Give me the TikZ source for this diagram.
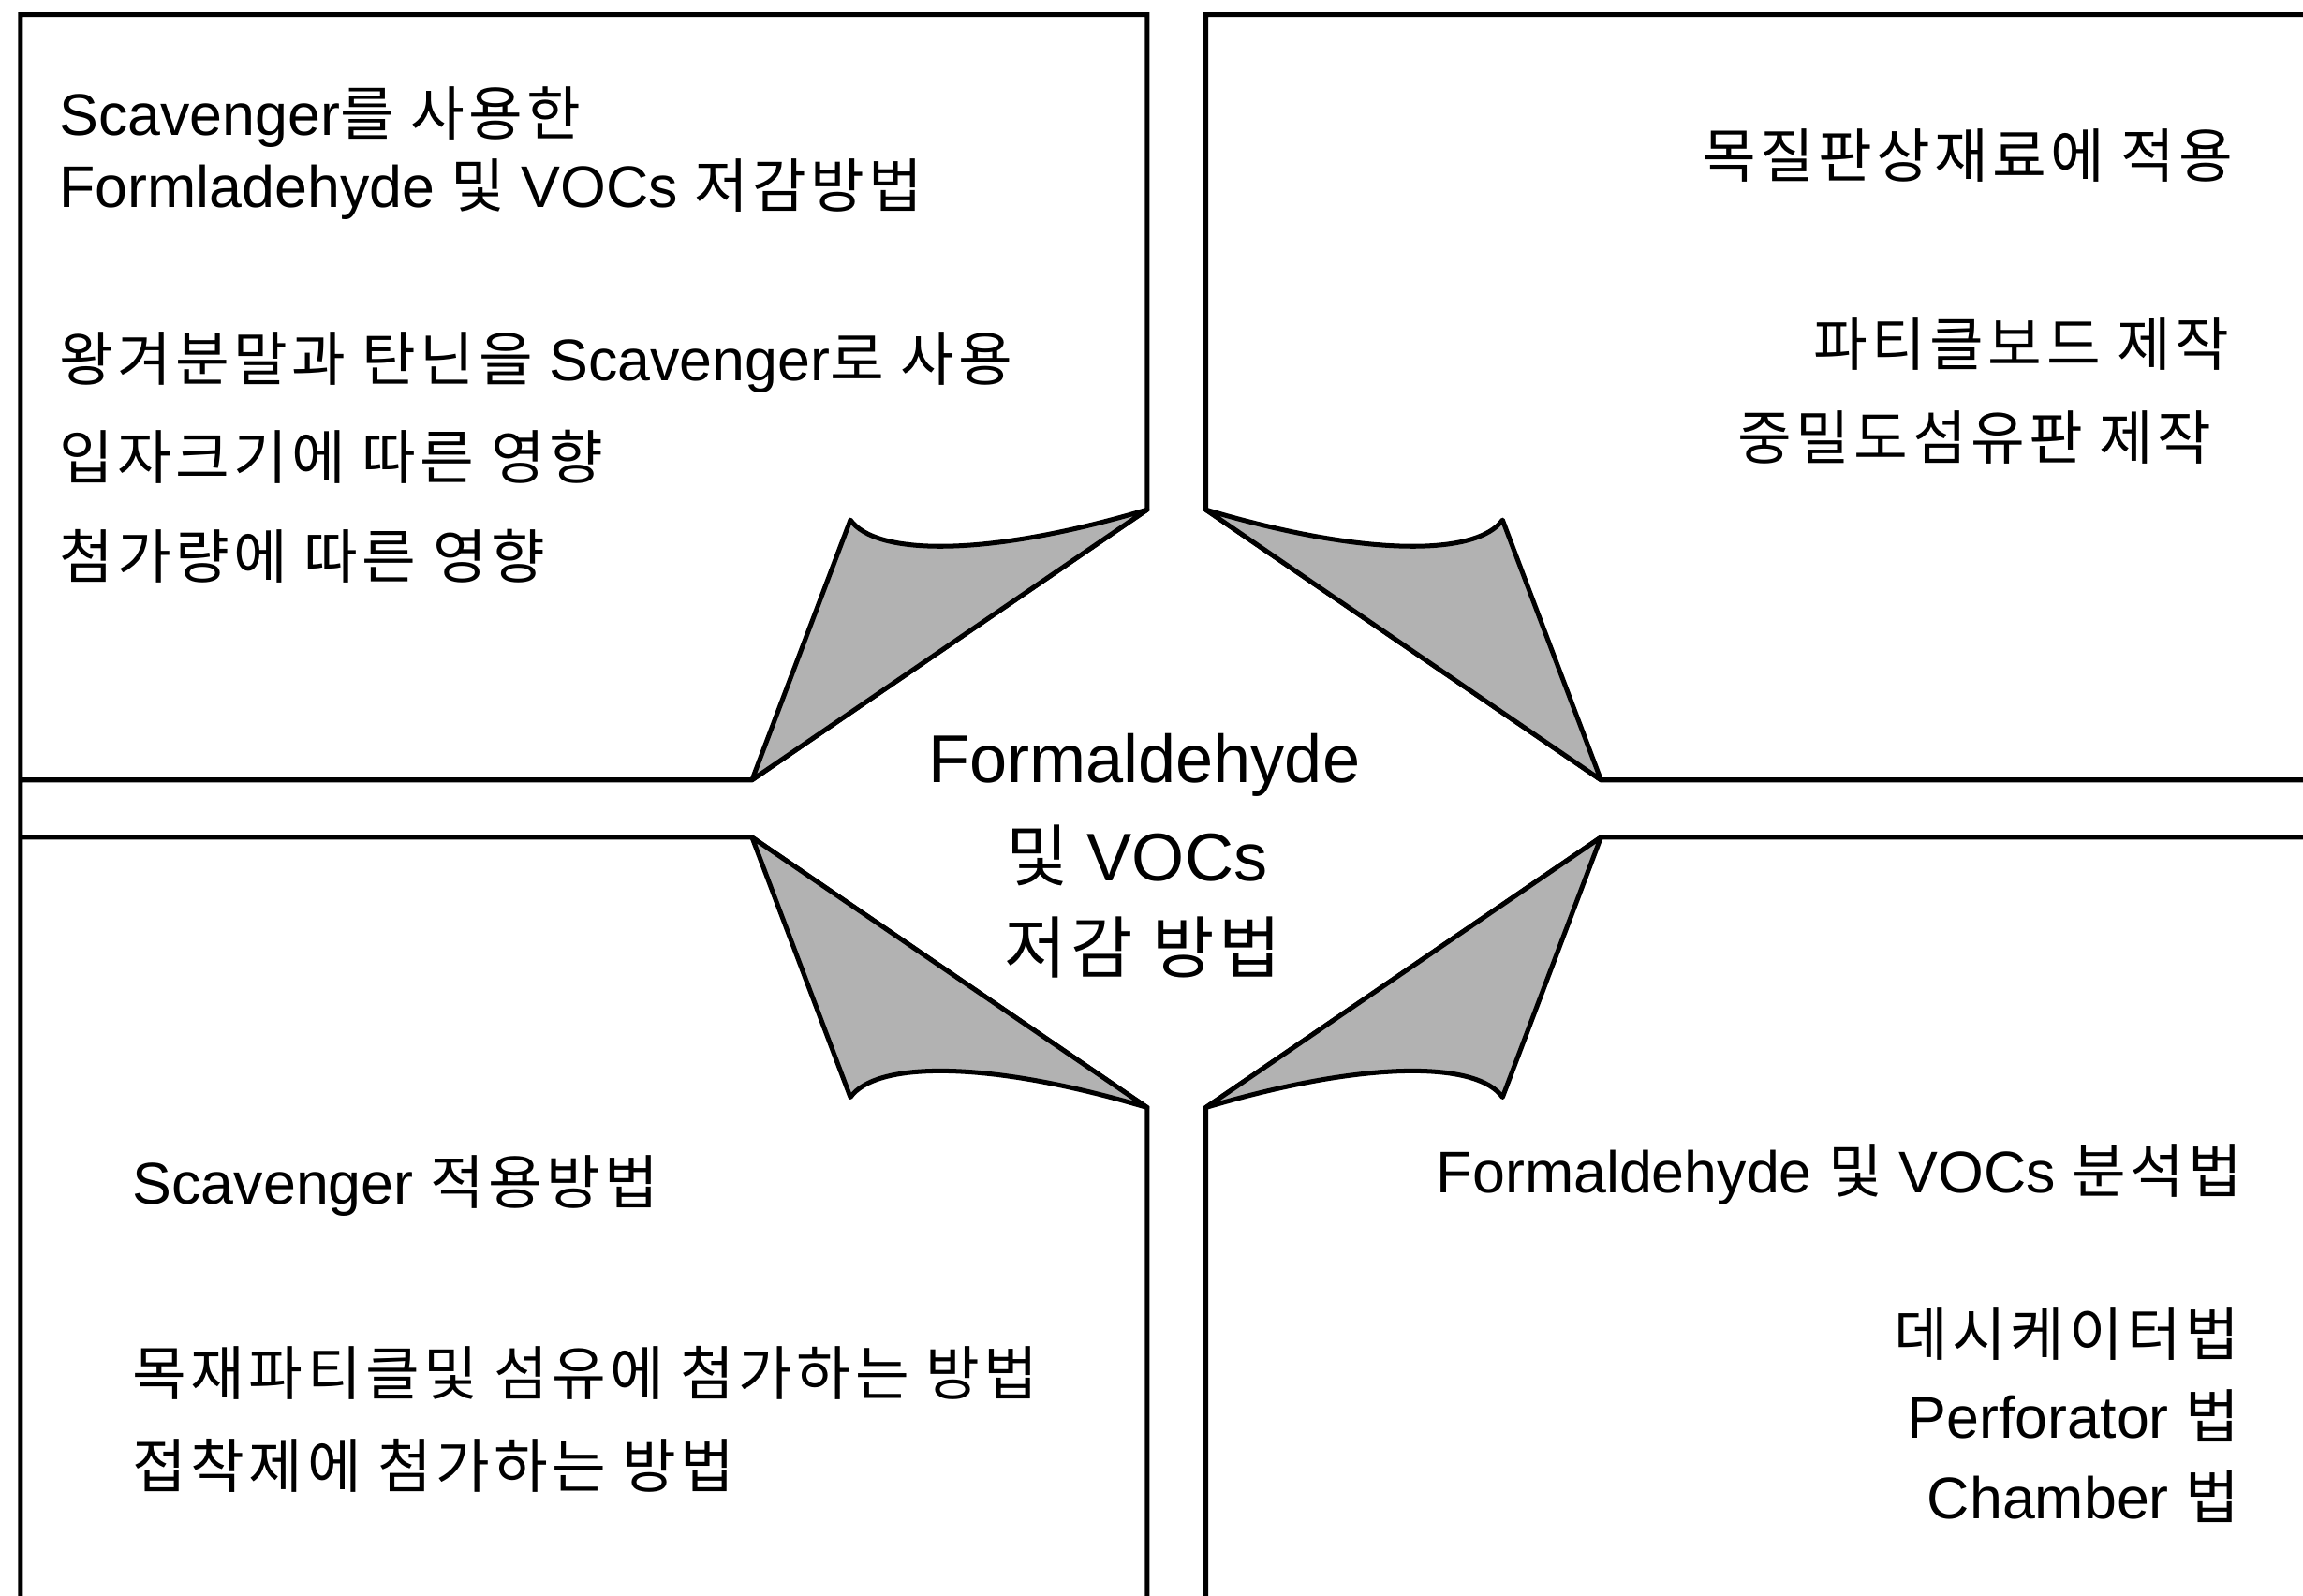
\documentclass[tikz,border=0pt]{standalone}
\usepackage{fontspec}
\setmainfont{Liberation Sans}
\newfontfamily\kr[LetterSpace=7]{Noto Sans CJK KR}
\newcommand{\K}[1]{{\kr #1}}
\begin{document}
\begin{tikzpicture}[x=0.5pt,y=-0.5pt,
  panel/.style={line width=1.6pt, line join=miter},
  flap/.style={line width=1.6pt, fill=black!30, line join=round},
  lbl/.style={inner sep=0pt, font=\fontsize{20}{24}\selectfont},
  ctr/.style={inner sep=0pt, anchor=base, font=\fontsize{23}{28}\selectfont}]
\useasboundingbox (0,0) rectangle (1568,1086);
\clip (0,0) rectangle (1568,1086);
% fold points
\coordinate (tlA) at (512,531); \coordinate (tlB) at (781,347); \coordinate (tlT) at (579,354);
\coordinate (trA) at (1090,531); \coordinate (trB) at (821,347); \coordinate (trT) at (1023,354);
\coordinate (blA) at (512,570); \coordinate (blB) at (781,754); \coordinate (blT) at (579,747);
\coordinate (brA) at (1090,570); \coordinate (brB) at (821,754); \coordinate (brT) at (1023,747);
% panels
\draw[panel] (14,1095) -- (14,10) -- (781,10) -- (tlB) -- (tlA) -- (14,531);
\draw[panel] (1575,10) -- (821,10) -- (trB) -- (trA) -- (1575,531);
\draw[panel] (14,570) -- (blA) -- (blB) -- (781,1095);
\draw[panel] (1575,570) -- (brA) -- (brB) -- (821,1095);
% flaps
\draw[flap] (tlA) -- (tlT) .. controls (596,378) and (670,380) .. (tlB) -- cycle;
\draw[flap] (trA) -- (trT) .. controls (1006,378) and (932,380) .. (trB) -- cycle;
\draw[flap] (blA) -- (blT) .. controls (596,723) and (670,721) .. (blB) -- cycle;
\draw[flap] (brA) -- (brT) .. controls (1006,723) and (932,721) .. (brB) -- cycle;
% centre
\node[ctr] (c1) at (779,533) {Formaldehyde};
\node[ctr] (c2) at (774,600) {\K{및} VOCs};
\node[ctr] (c3) at (778,662) {\K{저감} \K{방법}};
% top left
\node[lbl, anchor=base west] (tl1) at (40,92) {Scavenger\K{를} \K{사용한}};
\node[lbl, anchor=base west] (tl2) at (40,141) {Formladehyde \K{및} VOCs \K{저감방법}};
\node[lbl, anchor=base west] (tl3) at (40,259) {\K{왕겨분말과} \K{탄닌을} Scavenger\K{로} \K{사용}};
\node[lbl, anchor=base west] (tl4) at (40,326) {\K{입자크기에} \K{따른} \K{영향}};
\node[lbl, anchor=base west] (tl5) at (40,394) {\K{첨가량에} \K{따른} \K{영향}};
% top right
\node[lbl, anchor=base east] (tr1) at (1521,121) {\K{목질판상재료에} \K{적용}};
\node[lbl, anchor=base east] (tr2) at (1518,249) {\K{파티클보드} \K{제작}};
\node[lbl, anchor=base east] (tr3) at (1506,313) {\K{중밀도섬유판} \K{제작}};
% bottom left
\node[lbl, anchor=base west] (bl1) at (90,820) {Scavenger \K{적용방법}};
\node[lbl, anchor=base west] (bl2) at (90,950) {\K{목재파티클및} \K{섬유에} \K{첨가하는} \K{방법}};
\node[lbl, anchor=base west] (bl3) at (90,1013) {\K{접착제에} \K{첨가하는} \K{방법}};
% bottom right
\node[lbl, anchor=base east] (br1) at (1527,812) {Formaldehyde \K{및} VOCs \K{분석법}};
\node[lbl, anchor=base east] (br2) at (1525,923) {\K{데시케이터법}};
\node[lbl, anchor=base east] (br3) at (1525,979) {Perforator \K{법}};
\node[lbl, anchor=base east] (br4) at (1525,1034) {Chamber \K{법}};
\end{tikzpicture}
\end{document}
